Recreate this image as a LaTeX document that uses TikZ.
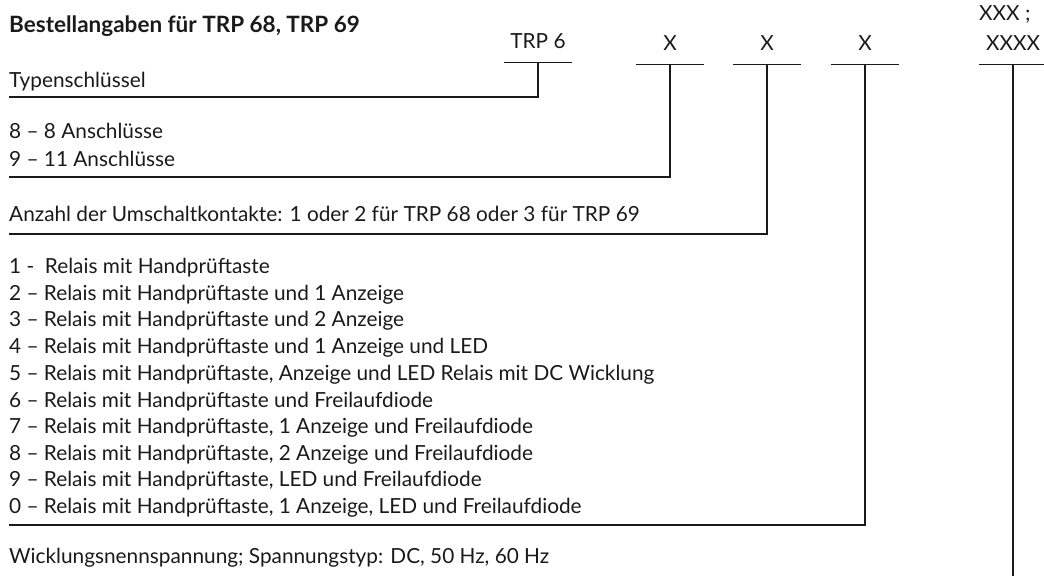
\documentclass[tikz,border=0pt]{standalone}
\usepackage{fontspec}
\setmainfont{Lato}
\usetikzlibrary{positioning}
\definecolor{ink}{HTML}{1A1A1A}

\begin{document}
\begin{tikzpicture}[x=1pt, y=-1pt, font=\fontsize{20.8}{24}\selectfont, color=ink]
	\tikzstyle{every node} = [inner sep=0pt, anchor=base west]
	\tikzstyle{code} = [anchor=base, minimum width=68pt, text depth=14pt]
	\tikzstyle{rule} = [line width=1.2pt]
	\useasboundingbox (0,0) rectangle (1044,576);
	% title
	\node[font=\fontsize{22.5}{26}\selectfont\bfseries] (title) at (9,32) {Bestellangaben für TRP 68, TRP 69};
	% code positions
	\node[code] (trp) at (538,48)  {TRP 6};
	\node[code] (xa)  at (670,50)  {X};
	\node[code] (xb)  at (767,50)  {X};
	\node[code] (xc)  at (865,50)  {X};
	\node[code] (xd)  at (1013,50) {XXXX};
	\node (xd1) at (979,20) {XXX ;};
	\draw[rule] (trp.south west) -- (trp.south east);
	\draw[rule] (xa.south west)  -- (xa.south east);
	\draw[rule] (xb.south west)  -- (xb.south east);
	\draw[rule] (xc.south west)  -- (xc.south east);
	\draw[rule] (xd.south west)  -- (xd.south east);
	% descriptions
	\node (typ)   at (9,87)  {Typenschlüssel};
	\node (con8)  at (9,138) {8 – 8 Anschlüsse};
	\node (con11) at (9,166) {9 – 11 Anschlüsse};
	\node (cont)  at (9,221) {Anzahl der Umschaltkontakte: 1 oder 2 für TRP 68 oder 3 für TRP 69};
	\node (v1) at (9,273) {1 -\ \ Relais mit Handprüftaste};
	\node (v2) at (9,300) {2 – Relais mit Handprüftaste und 1 Anzeige};
	\node (v3) at (9,326) {3 – Relais mit Handprüftaste und 2 Anzeige};
	\node (v4) at (9,353) {4 – Relais mit Handprüftaste und 1 Anzeige und LED};
	\node (v5) at (9,380) {5 – Relais mit Handprüftaste, Anzeige und LED Relais mit DC Wicklung};
	\node (v6) at (9,407) {6 – Relais mit Handprüftaste und Freilaufdiode};
	\node (v7) at (9,433) {7 – Relais mit Handprüftaste, 1 Anzeige und Freilaufdiode};
	\node (v8) at (9,460) {8 – Relais mit Handprüftaste, 2 Anzeige und Freilaufdiode};
	\node (v9) at (9,486) {9 – Relais mit Handprüftaste, LED und Freilaufdiode};
	\node (v0) at (9,513) {0 – Relais mit Handprüftaste, 1 Anzeige, LED und Freilaufdiode};
	\node (coil) at (9,563) {Wicklungsnennspannung; Spannungstyp: DC, 50 Hz, 60 Hz};
	% connectors
	\coordinate (r1) at (9,97);
	\coordinate (r2) at (9,177);
	\coordinate (r3) at (9,234);
	\coordinate (r4) at (9,525);
	\coordinate (r5) at (1013,576);
	\draw[rule] (trp.south) |- (r1);
	\draw[rule] (xa.south)  |- (r2);
	\draw[rule] (xb.south)  |- (r3);
	\draw[rule] (xc.south)  |- (r4);
	\draw[rule] (xd.south)  -- (r5);
\end{tikzpicture}
\end{document}
